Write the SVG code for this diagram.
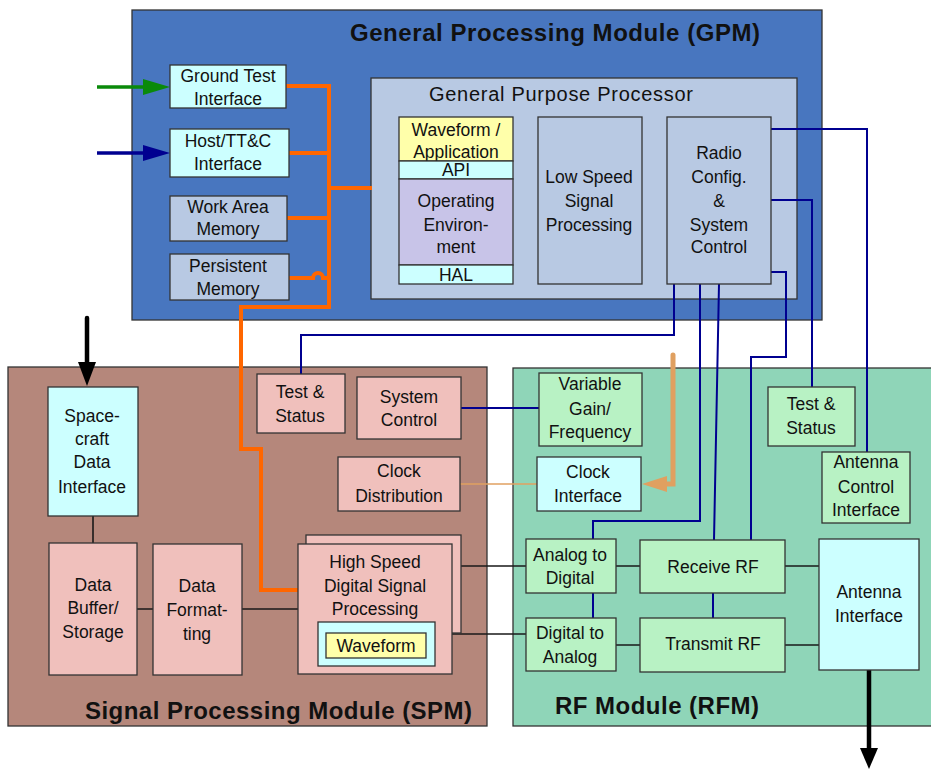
<svg xmlns="http://www.w3.org/2000/svg" width="931" height="769" viewBox="0 0 931 769">
<defs>
<style>
text{font-family:"Liberation Sans",Arial,sans-serif;font-size:17.5px;fill:#111;text-anchor:middle}
.title{font-weight:bold;font-size:24px;text-anchor:start}
.sub{font-size:20px}
.box{stroke:#333;stroke-width:1.3}
.cyan{fill:#CCFFFF}.steel{fill:#B8C9E3}.pink{fill:#F0C0BC}.green{fill:#B8F2C4}.yellow{fill:#FFFFAA}.lav{fill:#C8C4E8}
.blue{fill:none;stroke:#000090;stroke-width:2}
.blk{fill:none;stroke:#1a1a1a;stroke-width:1.6}
.orange{fill:none;stroke:#FF6600;stroke-width:4;stroke-linejoin:miter}
</style>
</defs>
<rect width="931" height="769" fill="#fff"/>
<g id="gpm"><rect x="132" y="10" width="690" height="310" fill="#4876BF" stroke="#333" stroke-width="1.3"/>
<text class="title" x="350" y="41" textLength="410" lengthAdjust="spacing">General Processing Module (GPM)</text></g>
<g id="spm"><rect x="8" y="367" width="479" height="359" fill="#B5877B" stroke="#333" stroke-width="1.3"/>
<text class="title" x="85" y="719" textLength="387" lengthAdjust="spacing">Signal Processing Module (SPM)</text></g>
<g id="rfm"><rect x="513" y="368" width="425" height="358" fill="#8FD5B8" stroke="#333" stroke-width="1.3"/>
<text class="title" x="555" y="714" textLength="204" lengthAdjust="spacing">RF Module (RFM)</text></g>
<g id="gpp"><rect class="box steel" x="371" y="78" width="426" height="221"/>
<text class="sub" x="561" y="101" textLength="264" lengthAdjust="spacing">General Purpose Processor</text></g>
<g id="connectors">
<path class="orange" d="M286 86H329V307H241V449H261V590H304"/>
<path class="orange" d="M289 153H329M287 218H329M329 188H372M289 278H313A5 5 0 0 1 323 278H329"/>
<path class="blue" d="M771 129H867V452M771 200H812V387M771 272H786V357H751V540M674 284V335H301V374M700 284V521H593V539M719 284L714 540M593 593V618M713 593V618M461 408H540"/>
<path d="M460 484H537" fill="none" stroke="#E0A060" stroke-width="1.6"/>
<path d="M673 355V484H664" fill="none" stroke="#E0A060" stroke-width="5" stroke-linecap="round"/>
<polygon points="642,484 667,476 667,492" fill="#E0A060"/>
<path class="blk" d="M93 516V543M137 609H153M242 609H298M452 566H526M447 634H526M616 566H640M616 645H640M785 566H819M785 645H819"/>
<path d="M97 87H148" stroke="#0A8A0A" stroke-width="3.5"/>
<polygon points="170,87 143,79 143,95" fill="#0A8A0A"/>
<path d="M97 153H148" stroke="#000090" stroke-width="3.5"/>
<polygon points="170,153 143,145 143,161" fill="#000090"/>
<path d="M87 318V366" stroke="#000" stroke-width="4.5" stroke-linecap="round"/>
<polygon points="87,386 78,362 96,362" fill="#000"/>
<path d="M869 669V752" stroke="#000" stroke-width="4.5"/>
<polygon points="869,769 860,748 878,748" fill="#000"/>
</g>
<g id="ground-test"><rect class="box cyan" x="170" y="65" width="116" height="43"/><text x="228" y="82">Ground Test</text><text x="228" y="105">Interface</text></g>
<g id="host-ttc"><rect class="box cyan" x="170" y="129" width="119" height="48"/><text x="228" y="147">Host/TT&amp;C</text><text x="228" y="170">Interface</text></g>
<g id="work-area"><rect class="box steel" x="170" y="196" width="117" height="45"/><text x="228" y="213">Work Area</text><text x="228" y="235">Memory</text></g>
<g id="persistent"><rect class="box steel" x="170" y="254" width="119" height="46"/><text x="228" y="272">Persistent</text><text x="228" y="295">Memory</text></g>
<g id="sw-stack">
<rect class="box yellow" x="399" y="117" width="114" height="44"/><text x="456" y="136">Waveform /</text><text x="456" y="158">Application</text>
<rect class="box cyan" x="399" y="161" width="114" height="18"/><text x="456" y="176">API</text>
<rect class="box lav" x="399" y="179" width="114" height="86"/><text x="456" y="207">Operating</text><text x="456" y="231">Environ-</text><text x="456" y="253">ment</text>
<rect class="box cyan" x="399" y="265" width="114" height="19"/><text x="456" y="281">HAL</text></g>
<g id="low-speed"><rect class="box steel" x="538" y="117" width="104" height="167"/><text x="589" y="183">Low Speed</text><text x="589" y="207">Signal</text><text x="589" y="231">Processing</text></g>
<g id="radio-config"><rect class="box steel" x="667" y="117" width="104" height="167"/><text x="719" y="159">Radio</text><text x="719" y="183">Config.</text><text x="719" y="207">&amp;</text><text x="719" y="231">System</text><text x="719" y="253">Control</text></g>
<g id="spm-test"><rect class="box pink" x="257" y="374" width="88" height="59"/><text x="300" y="398">Test &amp;</text><text x="300" y="422">Status</text></g>
<g id="spm-sysctl"><rect class="box pink" x="357" y="377" width="104" height="62"/><text x="409" y="403">System</text><text x="409" y="426">Control</text></g>
<g id="clock-dist"><rect class="box pink" x="338" y="457" width="122" height="54"/><text x="399" y="477">Clock</text><text x="399" y="502">Distribution</text></g>
<g id="sc-data"><rect class="box cyan" x="48" y="387" width="90" height="129"/><text x="92" y="422">Space-</text><text x="92" y="445">craft</text><text x="92" y="468">Data</text><text x="92" y="493">Interface</text></g>
<g id="data-buffer"><rect class="box pink" x="49" y="543" width="88" height="132"/><text x="93" y="591">Data</text><text x="93" y="614">Buffer/</text><text x="93" y="638">Storage</text></g>
<g id="data-fmt"><rect class="box pink" x="153" y="544" width="89" height="131"/><text x="197" y="592">Data</text><text x="197" y="616">Format-</text><text x="197" y="640">ting</text></g>
<g id="hsdsp"><rect class="box pink" x="306" y="535" width="155" height="98"/><rect class="box pink" x="298" y="544" width="154" height="130"/>
<text x="375" y="568">High Speed</text><text x="375" y="592">Digital Signal</text><text x="375" y="615">Processing</text>
<rect class="box cyan" x="318" y="622" width="117" height="44"/><rect class="box yellow" x="326" y="633" width="100" height="25"/><text x="376" y="652">Waveform</text></g>
<g id="var-gain"><rect class="box green" x="539" y="373" width="103" height="73"/><text x="590" y="390">Variable</text><text x="590" y="415">Gain/</text><text x="590" y="438">Frequency</text></g>
<g id="clock-if"><rect class="box cyan" x="537" y="457" width="104" height="54"/><text x="588" y="478">Clock</text><text x="588" y="502">Interface</text></g>
<g id="rfm-test"><rect class="box green" x="768" y="387" width="87" height="59"/><text x="811" y="410">Test &amp;</text><text x="811" y="434">Status</text></g>
<g id="ant-ctl"><rect class="box green" x="822" y="452" width="88" height="71"/><text x="866" y="468">Antenna</text><text x="866" y="493">Control</text><text x="866" y="516">Interface</text></g>
<g id="adc"><rect class="box green" x="526" y="539" width="90" height="54"/><text x="570" y="561">Analog to</text><text x="570" y="584">Digital</text></g>
<g id="dac"><rect class="box green" x="526" y="618" width="90" height="53"/><text x="570" y="639">Digital to</text><text x="570" y="663">Analog</text></g>
<g id="rx-rf"><rect class="box green" x="640" y="540" width="145" height="53"/><text x="713" y="573">Receive RF</text></g>
<g id="tx-rf"><rect class="box green" x="640" y="618" width="145" height="54"/><text x="713" y="650">Transmit RF</text></g>
<g id="ant-if"><rect class="box cyan" x="819" y="539" width="100" height="131"/><text x="869" y="598">Antenna</text><text x="869" y="622">Interface</text></g>
</svg>
